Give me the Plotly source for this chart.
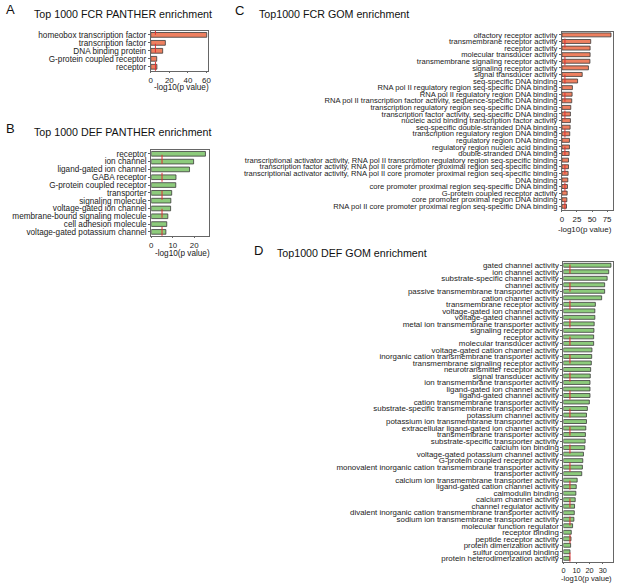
import plotly.graph_objects as go

W, H = 617, 584

# ---------------- data ----------------
a_terms = ["homeobox transcription factor", "transcription factor", "DNA binding protein",
           "G-protein coupled receptor", "receptor"]
a_vals = [60.3, 15.7, 12.8, 6.4, 6.6]

b_terms = ["receptor", "ion channel", "ligand-gated ion channel", "GABA receptor",
           "G-protein coupled receptor", "transporter", "signaling molecule",
           "voltage-gated ion channel", "membrane-bound signaling molecule",
           "cell adhesion molecule", "voltage-gated potassium channel"]
b_vals = [25.2, 19.7, 17.8, 11.5, 11.4, 9.5, 9.1, 9.0, 7.7, 7.2, 6.8]

c_terms = ["olfactory receptor activity", "transmembrane receptor activity", "receptor activity",
           "molecular transducer activity", "transmembrane signaling receptor activity",
           "signaling receptor activity", "signal transducer activity", "seq-specific DNA binding",
           "RNA pol II regulatory region seq-specific DNA binding",
           "RNA pol II regulatory region DNA binding",
           "RNA pol II transcription factor activity, sequence-specific DNA binding",
           "transcription regulatory region seq-specific DNA binding",
           "transcription factor activity, seq-specific DNA binding",
           "nucleic acid binding transcription factor activity",
           "seq-specific double-stranded DNA binding",
           "transcription regulatory region DNA binding", "regulatory region DNA binding",
           "regulatory region nucleic acid binding", "double-stranded DNA binding",
           "transcriptional activator activity, RNA pol II transcription regulatory region seq-specific binding",
           "transcription factor activity, RNA pol II core promoter proximal region seq-specific binding",
           "transcriptional activator activity, RNA pol II core promoter proximal region seq-specific binding",
           "DNA binding", "core promoter proximal region seq-specific DNA binding",
           "G-protein coupled receptor activity", "core promoter proximal region DNA binding",
           "RNA pol II core promoter proximal region seq-specific DNA binding"]
c_vals = [81.5, 47.8, 46.8, 46.8, 46.5, 44.0, 33.7, 26.0, 17.4, 16.9, 16.3, 14.7, 14.1, 14.1,
          13.6, 13.0, 12.5, 12.5, 12.0, 10.9, 10.9, 10.3, 9.8, 9.2, 8.7, 8.2, 7.6]

d_terms = ["gated channel activity", "ion channel activity", "substrate-specific channel activity",
           "channel activity", "passive transmembrane transporter activity", "cation channel activity",
           "transmembrane receptor activity", "voltage-gated ion channel activity",
           "voltage-gated channel activity", "metal ion transmembrane transporter activity",
           "signaling receptor activity", "receptor activity", "molecular transducer activity",
           "voltage-gated cation channel activity", "inorganic cation transmembrane transporter activity",
           "transmembrane signaling receptor activity", "neurotransmitter receptor activity",
           "signal transducer activity", "ion transmembrane transporter activity",
           "ligand-gated ion channel activity", "ligand-gated channel activity",
           "cation transmembrane transporter activity",
           "substrate-specific transmembrane transporter activity", "potassium channel activity",
           "potassium ion transmembrane transporter activity",
           "extracellular ligand-gated ion channel activity", "transmembrane transporter activity",
           "substrate-specific transporter activity", "calcium ion binding",
           "voltage-gated potassium channel activity", "G-protein coupled receptor activity",
           "monovalent inorganic cation transmembrane transporter activity", "transporter activity",
           "calcium ion transmembrane transporter activity", "ligand-gated cation channel activity",
           "calmodulin binding", "calcium channel activity", "channel regulator activity",
           "divalent inorganic cation transmembrane transporter activity",
           "sodium ion transmembrane transporter activity", "molecular function regulator",
           "receptor binding", "peptide receptor activity", "protein dimerization activity",
           "sulfur compound binding", "protein heterodimerization activity"]
d_vals = [36.3, 34.6, 33.4, 31.5, 31.5, 29.2, 24.4, 24.0, 24.0, 23.5, 23.3, 23.1, 23.1, 21.8,
          21.6, 21.3, 20.8, 20.5, 20.3, 20.3, 20.3, 19.8, 18.3, 17.6, 17.6, 17.1, 16.8, 16.6,
          16.3, 15.3, 14.8, 14.5, 14.0, 10.5, 9.8, 9.5, 9.0, 8.5, 8.3, 8.0, 7.0, 6.0, 5.8, 5.5,
          5.0, 4.8]

threshold = 5
x_title = "-log10(p value)"

# ---------------- layout helpers ----------------
def px_x(v):
    return v / W

def px_y(v):
    return 1 - v / H

FONT = "Liberation Sans, Arial, sans-serif"
ORANGE = "#EE8060"
GREEN = "#8DCB7C"
EDGE = "#3a3a3a"
FRAME = "#666666"
TXT = "#222222"

panels = [
    # terms, vals, color, x-domain px, y-domain px (top,bottom), range, dtick, label font, tick font
    (a_terms, a_vals, ORANGE, (150, 208), (30, 70), [0, 62], 20, 8.2, 7.9),
    (b_terms, b_vals, GREEN, (150.5, 209), (149.4, 235.6), [0, 27], 10, 8.2, 7.9),
    (c_terms, c_vals, ORANGE, (564.5, 615.5), (30.7, 209.3), [0, 84], 25, 7.6, 7.9),
    (d_terms, d_vals, GREEN, (566, 615.5), (261.9, 562.5), [0, 37.5], 10, 7.9, 7.3),
]

fig = go.Figure()
layout = {}
shapes = []
for i, (terms, vals, col, xd, yd, rng, dt, fs, tfs) in enumerate(panels, start=1):
    sx = "" if i == 1 else str(i)
    fig.add_trace(go.Bar(
        x=vals, y=terms, orientation="h", xaxis="x" + sx, yaxis="y" + sx,
        marker=dict(color=col, line=dict(color=EDGE, width=0.8)),
        width=0.6, showlegend=False, hoverinfo="x+y"))
    layout["xaxis" + sx] = dict(
        domain=[px_x(xd[0]), px_x(xd[1])], anchor="y" + sx, range=rng, dtick=dt,
        showgrid=False, zeroline=False, showline=True, linecolor=FRAME, linewidth=1,
        mirror=True, ticks="outside", ticklen=1.5, tickcolor=FRAME,
        ticklabeloverflow="allow",
        tickfont=dict(size=tfs, family=FONT, color=TXT))
    layout["yaxis" + sx] = dict(
        domain=[px_y(yd[1]), px_y(yd[0])], anchor="x" + sx, autorange="reversed",
        type="category", dtick=1, showgrid=False, zeroline=False, showline=True,
        linecolor=FRAME, linewidth=1, mirror=True, ticks="outside", ticklen=2,
        tickcolor=FRAME, ticklabeloverflow="allow",
        tickfont=dict(size=fs, family=FONT, color=TXT))
    shapes.append(dict(type="line", xref="x" + sx, yref="y" + sx + " domain",
                       x0=threshold, x1=threshold, y0=0, y1=1,
                       line=dict(color="#E03030", width=1, dash="dash")))

ann = []
def text(x, y, s, size, anchor="left", color="#111"):
    ann.append(dict(x=px_x(x), y=px_y(y), xref="paper", yref="paper", text=s,
                    showarrow=False, xanchor=anchor, yanchor="middle",
                    font=dict(size=size, family=FONT, color=color)))

text(2, 9, "A", 13)
text(30, 12.7, "Top 1000 FCR PANTHER enrichment", 10.7)
text(2, 128, "B", 13)
text(30, 131.7, "Top 1000 DEF PANTHER enrichment", 10.7)
text(233, 10, "C", 13)
text(257, 13.3, "Top1000 FCR GOM enrichment", 10.7)
text(252, 250, "D", 13)
text(275, 252.7, "Top1000 DEF GOM enrichment", 10.7)

# axis titles
text(181, 86.5, x_title, 8.2, "center", TXT)
text(182, 253, x_title, 8.2, "center", TXT)
text(616.5, 229, x_title, 8.0, "right", TXT)
text(616.5, 579.6, x_title, 7.6, "right", TXT)

fig.update_layout(**layout)
fig.update_layout(
    width=W, height=H, margin=dict(l=0, r=0, t=0, b=0),
    paper_bgcolor="white", plot_bgcolor="white", bargap=0.4,
    shapes=shapes, annotations=ann, font=dict(family=FONT))

fig.write_html("out.html", config={"displayModeBar": False},
               post_script="document.body.style.margin='0px';document.body.style.overflow='hidden';")
